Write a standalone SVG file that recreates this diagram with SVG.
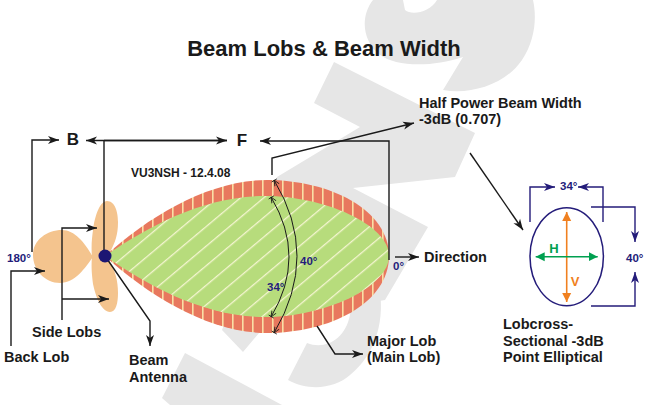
<svg xmlns="http://www.w3.org/2000/svg" width="650" height="405" viewBox="0 0 650 405">
<style>
text{font-family:"Liberation Sans",Arial,sans-serif;font-weight:bold;fill:#1a1a1a}
.l{font-size:14.500px}
.b{font-size:17px}
.d{font-size:11.500px;fill:#241c7a}
.k{fill:none;stroke:#1a1a1a;stroke-width:1.4}
.n{fill:none;stroke:#241c7a;stroke-width:1.4}
</style>
<defs>
<marker id="ak" markerUnits="userSpaceOnUse" markerWidth="12" markerHeight="10" refX="11" refY="5" orient="auto"><path d="M0,1 L11,5 L0,9 L3,5 Z" fill="#1a1a1a"/></marker>
<marker id="as" markerUnits="userSpaceOnUse" markerWidth="7" markerHeight="7" refX="6" refY="3.5" orient="auto-start-reverse"><path d="M0,1 L6,3.5 L0,6 M5.5,0.5 L5.5,6.5" fill="none" stroke="#1a1a1a" stroke-width="0.8"/></marker>
<marker id="an" markerUnits="userSpaceOnUse" markerWidth="12" markerHeight="10" refX="11" refY="5" orient="auto"><path d="M0,1 L11,5 L0,9 L3,5 Z" fill="#241c7a"/></marker>
<marker id="ao" markerUnits="userSpaceOnUse" markerWidth="10" markerHeight="10" refX="9" refY="5" orient="auto-start-reverse"><path d="M0,0.5 L9,5 L0,9.5 Z" fill="#f08020"/></marker>
<marker id="ag" markerUnits="userSpaceOnUse" markerWidth="10" markerHeight="10" refX="9" refY="5" orient="auto-start-reverse"><path d="M0,0.5 L9,5 L0,9.5 Z" fill="#00a050"/></marker>
<pattern id="ticks" patternUnits="userSpaceOnUse" width="10" height="10" x="2" y="0"><rect width="10" height="10" fill="#e8785e"/><rect x="0" width="1.600" height="10" fill="#f9dfa5"/></pattern>
<pattern id="hatch" patternUnits="userSpaceOnUse" width="15" height="15" patternTransform="rotate(-40 265 256)"><rect width="15" height="15" fill="#b7dc7c"/><rect width="15" height="1.3" fill="#f4f5d0"/></pattern>
</defs>
<rect width="650" height="405" fill="#fff"/>
<g id="watermark" fill="#e6e6e6">
<path d="M373,0 C361,15 361,40 380,55 C395,66 430,68 463,57 L443,90 C470,95 505,85 522,60 C535,40 537,18 533,0 L437,0 C430,12 412,16 405,10 L403,0 Z"/>
<path d="M334,62 L475,133 L455,177 L353,188 L428,227 L385,300 L270,320 L243,352 L222,330 L277,177 L360,127 L314,103 Z"/>
<path d="M378,280 C387,320 375,355 350,375 C335,388 310,392 288,380 L307,343 C325,350 345,340 350,315 L340,280 Z"/>
<path d="M185,353 L282,405 L170,405 L162,398 Z"/>
</g>
<g id="title"><text x="324" y="56" text-anchor="middle" font-size="22">Beam Lobs &amp; Beam Width</text></g>
<g id="side-back-lobes" fill="#f4c48e">
<path d="M33,255 C33,240 47,230 62,230 C75,230 85,243 93,257 C85,268 75,283 60,283 C45,283 33,270 33,255 Z"/>
<path d="M92,258 C91,245 92,238 93,230 C95,215 100,201 107,201 C115,201 118,212 118,222 C118,235 115,243 110,252 L105,258 Z"/>
<path d="M92,256 C91,268 92,275 93,284 C96,298 102,312 110,312 C116,312 118,303 118,293 C118,280 115,271 110,262 L105,256 Z"/>
</g>
<g id="major-lobe">
<path d="M105,256 C150,215 210,180 267,180 C330,180 389,210 389,256 C389,303 330,333 267,333 C210,333 150,297 105,256 Z" fill="url(#ticks)"/>
<path d="M105,256 C150,225 205,196 265,196 C325,196 389,225 389,256 C389,287 325,317 265,317 C205,317 150,287 105,256 Z" fill="url(#hatch)"/>
</g>
<g id="connectors">
<path class="k" d="M32,252 V140 H59" marker-end="url(#ak)"/>
<path class="k" d="M104,256 V140.500 M227,140.500 H86" marker-end="url(#ak)"/>
<path class="k" d="M104,140.500 H227" marker-end="url(#ak)"/>
<path class="k" d="M389,260 V141 H260" marker-end="url(#ak)"/>
<path class="k" d="M272,175 V158 L414,123" marker-end="url(#ak)"/>
<path class="k" d="M470,153 L523,230" marker-end="url(#ak)"/>
<path class="k" d="M395,257 H419" marker-end="url(#ak)"/>
<path class="k" d="M62,320 V228 H97" marker-end="url(#ak)"/>
<path class="k" d="M62,299 H109" marker-end="url(#ak)"/>
<path class="k" d="M11,346 V271 H45" marker-end="url(#ak)"/>
<path class="k" d="M105,256 L150,321 V346" marker-end="url(#ak)"/>
<path class="k" d="M317,326 L335,354 H363" marker-end="url(#ak)"/>
<path d="M274,180 Q320,256 274,333" fill="none" stroke="#1a1a1a" stroke-width="1" marker-start="url(#as)" marker-end="url(#as)"/>
<path d="M271,197 Q307,257 271,317" fill="none" stroke="#1a1a1a" stroke-width="1" marker-start="url(#as)" marker-end="url(#as)"/>
</g>
<g id="antenna"><circle cx="105" cy="256" r="6.500" fill="#1c1673"/></g>
<g id="labels">
<text class="b" x="73" y="145" text-anchor="middle">B</text>
<text class="b" x="242" y="146" text-anchor="middle">F</text>
<text x="131" y="177" font-size="12">VU3NSH - 12.4.08</text>
<text class="l" x="419" y="108">Half Power Beam Width</text>
<text class="l" x="419" y="124">-3dB (0.707)</text>
<text class="l" x="424" y="262">Direction</text>
<text class="l" x="32" y="337">Side Lobs</text>
<text class="l" x="4" y="362">Back Lob</text>
<text class="l" x="129" y="365">Beam</text>
<text class="l" x="129" y="382">Antenna</text>
<text class="l" x="367" y="346">Major Lob</text>
<text class="l" x="367" y="362">(Main Lob)</text>
<text class="d" x="7" y="262">180°</text>
<text class="d" x="393" y="270">0°</text>
<text class="d" x="300" y="265">40°</text>
<text class="d" x="267" y="291">34°</text>
</g>
<g id="cross-section">
<ellipse cx="566.700" cy="256.700" rx="36.700" ry="49" fill="none" stroke="#241c7a" stroke-width="1.500"/>
<path d="M566.700,212 V302" stroke="#f08020" stroke-width="1.600" fill="none" marker-start="url(#ao)" marker-end="url(#ao)"/>
<path d="M535.700,256.700 H597.700" stroke="#00a050" stroke-width="1.600" fill="none" marker-start="url(#ag)" marker-end="url(#ag)"/>
<path class="n" d="M530,222 V187 H555" marker-end="url(#an)"/>
<path class="n" d="M603,222 V187 H578" marker-end="url(#an)"/>
<path class="n" d="M591,207 H635 V242" marker-end="url(#an)"/>
<path class="n" d="M591,306 H635 V272" marker-end="url(#an)"/>
<text class="d" x="560" y="190">34°</text>
<text class="d" x="626" y="262">40°</text>
<text x="554" y="253" text-anchor="middle" font-size="13" style="fill:#00a050">H</text>
<text x="575" y="286" text-anchor="middle" font-size="13" style="fill:#f08020">V</text>
<text class="l" x="503" y="329">Lobcross-</text>
<text class="l" x="503" y="346">Sectional -3dB</text>
<text class="l" x="503" y="362">Point Elliptical</text>
</g>
</svg>
